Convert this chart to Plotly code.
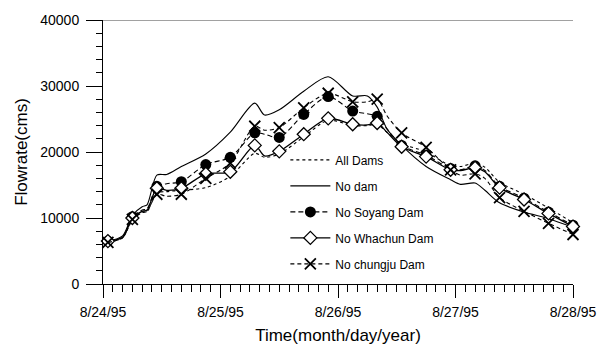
import datetime as dt
import plotly.graph_objects as go

# Hours after 8/24/95 00:00 at which the flow was read
hours = [1, 4, 6, 8, 9, 11, 13, 16, 21, 26, 31, 33, 36, 41, 46, 51, 54, 56, 58,
         61, 66, 71, 73, 76, 78, 81, 86, 91, 96]

# Flowrate (cms) for each scenario
all_dams = [6400, 7000, 9700, 10900, 11000, 13800, 14000, 14200, 14600, 16300,
            19800, 19200, 19700, 22300, 24800, 24000, 24000, 24200, 23000, 21300,
            20000, 17900, 17800, 18300, 17700, 15400, 13600, 11500, 9300]
no_dam = [6500, 7300, 10400, 11700, 12000, 16500, 16600, 17800, 19700, 23000,
          27400, 25600, 26400, 29200, 31400, 28500, 28500, 26800, 23500, 21000,
          17800, 15800, 15100, 15300, 14200, 12300, 10900, 9900, 8600]
no_soyang = [6500, 7100, 10200, 11200, 11400, 14800, 15200, 15500, 18100, 19200,
             22900, 22700, 22200, 25700, 28400, 26200, 25800, 25400, 23500, 21000,
             19500, 17500, 17300, 17900, 17200, 14800, 13000, 10900, 8900]
no_whachun = [6500, 7100, 10000, 11000, 11200, 14500, 14200, 14500, 16700, 17000,
              21000, 19400, 20100, 22700, 25100, 24200, 24100, 24400, 23000, 20800,
              19300, 17300, 17200, 17600, 17000, 14600, 12800, 10700, 8700]
no_chungju = [6300, 7000, 9800, 10800, 11000, 13600, 13300, 13600, 16000, 18300,
              23900, 23300, 23700, 26700, 28900, 27600, 27600, 28000, 25500, 22900,
              20700, 17300, 16500, 16700, 16000, 13100, 11000, 9200, 7500]

# Symbols are plotted every fifth hour, starting at 01:00
marker_every = 5

start = dt.datetime(1995, 8, 24)
times = [start + dt.timedelta(hours=h) for h in hours]
marked = [i for i, h in enumerate(hours) if (h - 1) % marker_every == 0]

FONT = "Liberation Sans, Arial, sans-serif"
INK = "black"

series = [
    ("All Dams", all_dams, dict(dash="3px,3px", width=1.1), None),
    ("No dam", no_dam, dict(dash="solid", width=1.1), None),
    ("No Soyang Dam", no_soyang, dict(dash="5px,3px", width=1.1),
     dict(symbol="circle", size=11, color=INK, line=dict(width=0))),
    ("No Whachun Dam", no_whachun, dict(dash="solid", width=1.3),
     dict(symbol="diamond", size=10, color="white", line=dict(color=INK, width=1.3))),
    ("No chungju Dam", no_chungju, dict(dash="4px,3px", width=1.1),
     dict(symbol="x-thin", size=11, color=INK, line=dict(color=INK, width=1.8))),
]

fig = go.Figure()

for name, vals, line, marker in series:
    # the curve itself
    fig.add_trace(go.Scatter(
        x=times, y=vals, mode="lines", name=name, legendgroup=name,
        showlegend=False, line=dict(color=INK, shape="spline", smoothing=0.8, **line),
    ))
    # symbols at the marked hours
    if marker is not None:
        fig.add_trace(go.Scatter(
            x=[times[i] for i in marked], y=[vals[i] for i in marked],
            mode="markers", name=name, legendgroup=name, showlegend=False,
            marker=marker, cliponaxis=False,
        ))
    # legend entry showing line and symbol together
    fig.add_trace(go.Scatter(
        x=[None], y=[None], name=name, legendgroup=name,
        mode="lines+markers" if marker is not None else "lines",
        line=dict(color=INK, **line),
        marker=marker if marker is not None else None,
    ))

fig.update_layout(
    width=609, height=354,
    margin=dict(l=103, r=30, t=15, b=69),
    paper_bgcolor="white", plot_bgcolor="white",
    font=dict(family=FONT, color=INK, size=14),
    showlegend=True,
    legend=dict(
        x=0.388, y=0.525, xanchor="left", yanchor="top",
        bgcolor="rgba(0,0,0,0)", font=dict(size=12, family=FONT),
        traceorder="grouped", tracegroupgap=7, itemwidth=40,
    ),
    xaxis=dict(
        type="date",
        range=[start, start + dt.timedelta(days=4)],
        tick0=start, dtick=86400000, tickformat="%-m/%d/%y",
        ticks="outside", ticklen=13, tickwidth=1, tickcolor=INK,
        showline=True, linecolor=INK, linewidth=1,
        showgrid=False, zeroline=False,
        tickfont=dict(size=14), ticklabelstandoff=2,
        minor=dict(dtick=7200000, ticks="outside", ticklen=7, tickcolor=INK,
                   showgrid=False),
        title=dict(text="Time(month/day/year)", font=dict(size=17), standoff=10),
    ),
    yaxis=dict(
        range=[0, 40000], tick0=0, dtick=10000, tickformat="d",
        ticks="outside", ticklen=16, tickwidth=1, tickcolor=INK,
        showline=True, linecolor=INK, linewidth=1,
        showgrid=False, zeroline=False,
        tickfont=dict(size=14), ticklabelstandoff=4,
        minor=dict(dtick=2000, ticks="outside", ticklen=6, tickcolor=INK,
                   showgrid=False),
        title=dict(text="Flowrate(cms)", font=dict(size=17), standoff=8),
    ),
    shapes=[dict(type="line", xref="paper", yref="y", x0=0, x1=1,
                 y0=40000, y1=40000, line=dict(color="#444", width=1))],
)

fig.write_html("out.html")
